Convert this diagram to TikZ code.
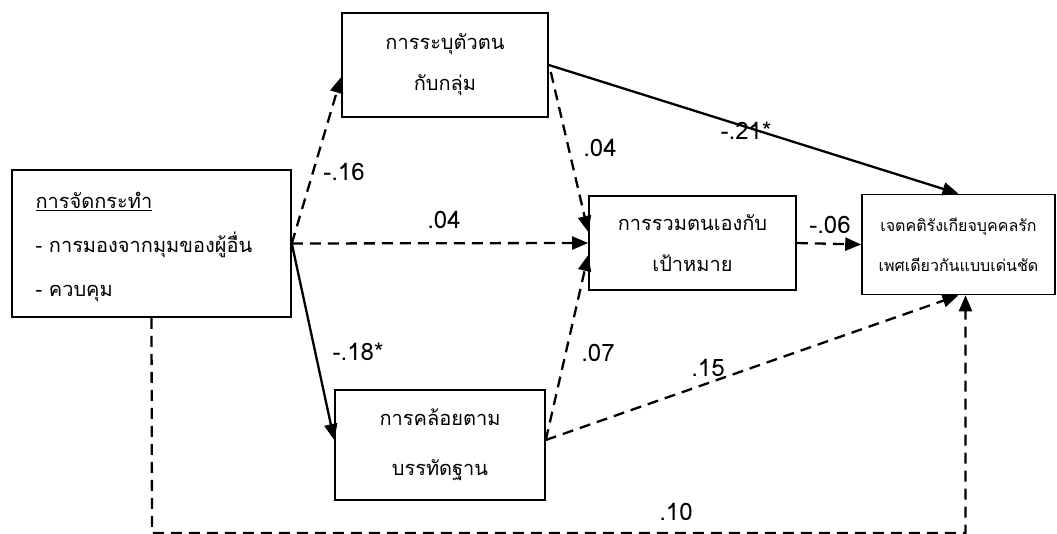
\documentclass[tikz,border=0pt]{standalone}
\usepackage{fontspec}
\newfontfamily\thaifont[Script=Thai]{Loma}
\usetikzlibrary{arrows.meta,calc}

\tikzset{
  box/.style={rectangle,draw,line width=1.6pt,font=\thaifont\fontsize{20}{41}\selectfont,align=center,inner sep=0pt},
  path/.style={line width=2.3pt,-{Triangle[length=16pt,width=13pt]}},
  dpath/.style={path,dash pattern=on 11pt off 7pt},
  coef/.style={font=\thaifont\fontsize{24}{24}\selectfont,inner sep=0pt}
}

\begin{document}
\begin{tikzpicture}[x=1pt,y=-1pt]
\useasboundingbox (0,0) rectangle (1057,534);

\node[box,minimum width=279pt,minimum height=147pt] (manip) at (151.5,243.5) {};
\node[font=\thaifont\fontsize{20}{44}\selectfont,align=left,anchor=west] at (32,247)
  {\underline{การจัดกระทำ}\\- การมองจากมุมของผู้อื่น\\- ควบคุม};
\node[box,minimum width=206pt,minimum height=104pt] (ident) at (445,65) {การระบุตัวตน\\กับกลุ่ม};
\node[box,minimum width=207pt,minimum height=94pt] (goal) at (692.5,243) {การรวมตนเองกับ\\เป้าหมาย};
\node[box,minimum width=193pt,minimum height=100pt,font=\thaifont\fontsize{16}{40}\selectfont] (atti) at (958.5,244.5) {เจตคติรังเกียจบุคคลรัก\\เพศเดียวกันแบบเด่นชัด};
\node[box,minimum width=210pt,minimum height=110pt,font=\thaifont\fontsize{20}{50}\selectfont] (conf) at (440,445) {การคล้อยตาม\\บรรทัดฐาน};

\coordinate (bl) at (152,533);
\coordinate (br) at (965.5,533);

\draw[dpath] (manip.east) -- ($(ident.west)+(0,12)$);
\draw[dpath] (manip.east) -- (goal.west);
\draw[path] (manip.east) -- ($(conf.west)+(0,-5)$);
\draw[dpath] ($(ident.east)+(2,7)$) -- ($(goal.west)+(0,-11)$);
\draw[dpath] ($(conf.east)+(0,-5)$) -- ($(goal.west)+(0,12)$);
\draw[path] (ident.east) -- (atti.north);
\draw[dpath] (goal.east) -- (atti.west);
\draw[dpath] ($(conf.east)+(0,-5)$) -- (atti.south);
\draw[dpath] (manip.south) -- (bl) -- (br) -- ($(atti.south)+(7,0)$);

\node[coef] (c1) at (344,172) {-.16};
\node[coef] (c2) at (444,220) {.04};
\node[coef] (c3) at (358,352) {-.18*};
\node[coef] (c4) at (600,148) {.04};
\node[coef] (c5) at (598,353) {.07};
\node[coef] (c6) at (746,131) {-.21*};
\node[coef] (c7) at (830,225) {-.06};
\node[coef] (c8) at (708,368) {.15};
\node[coef] (c9) at (676,512) {.10};
\end{tikzpicture}
\end{document}
